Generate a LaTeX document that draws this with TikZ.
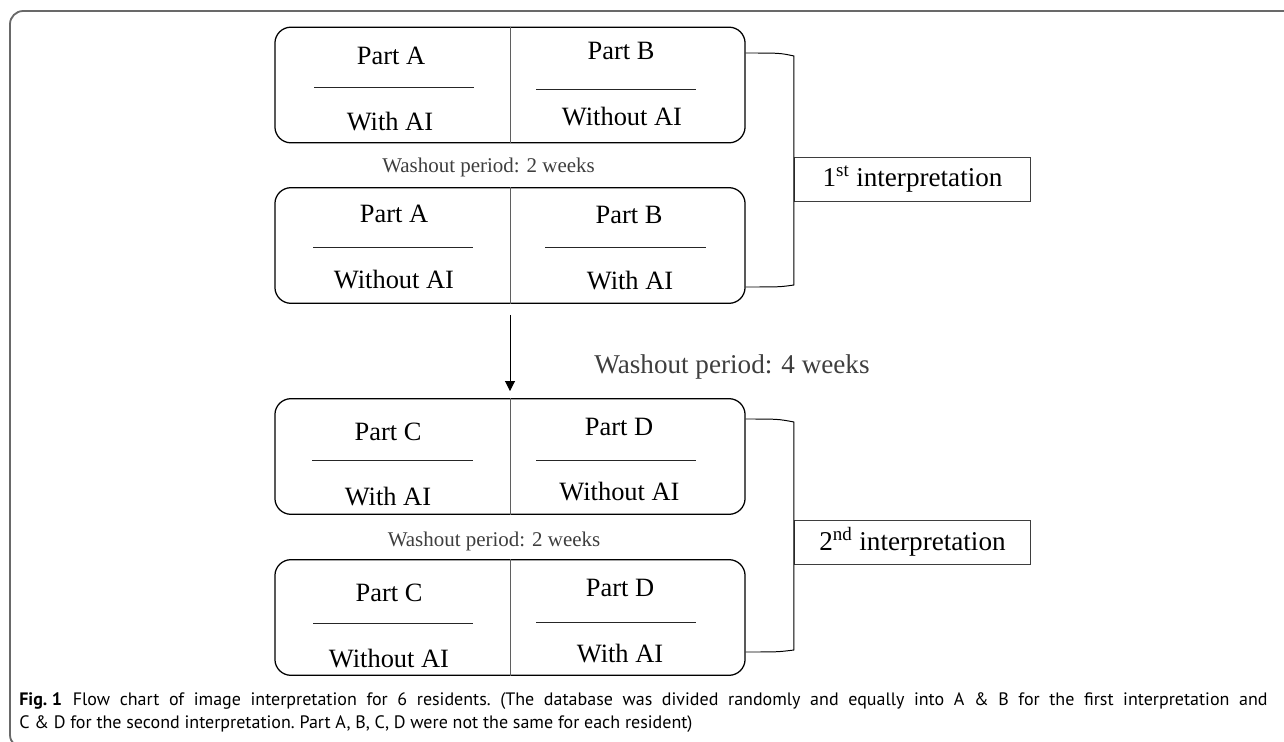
\documentclass[tikz,border=0pt]{standalone}
\usepackage{fontspec}
\setmainfont{Liberation Serif}
\newfontfamily\capfont{PT Sans}
\usetikzlibrary{arrows.meta,calc}
\definecolor{washgray}{RGB}{62,62,62}
\definecolor{framegray}{RGB}{105,105,105}
\definecolor{divgray}{RGB}{95,95,95}
\tikzstyle{partbox} = [draw=black, line width=0.9pt, rounded corners=0.4cm, minimum width=11.75cm, minimum height=2.89cm, inner sep=0pt]
\tikzstyle{parttxt} = [anchor=base, inner sep=0pt, font=\fontsize{18.8}{20}\selectfont]
\tikzstyle{washsmall} = [anchor=base, inner sep=0pt, text=washgray, font=\fontsize{14.9}{16}\selectfont]
\tikzstyle{washbig} = [anchor=base, inner sep=0pt, text=washgray, font=\fontsize{19.3}{21}\selectfont]
\tikzstyle{interp} = [draw=washgray, line width=0.7pt, minimum width=5.9cm, minimum height=1.1cm, inner sep=0pt, font=\fontsize{19.3}{21}\selectfont]
\tikzstyle{divline} = [draw=divgray, line width=0.7pt]
\tikzstyle{uline} = [draw=black!85, line width=0.6pt]
\tikzstyle{bracket} = [draw=black, line width=0.7pt]
\tikzstyle{arrow} = [draw=black, line width=0.7pt, -{Triangle[width=7pt,length=7pt]}]
\tikzstyle{capt} = [anchor=base west, inner sep=0pt, font=\capfont\frenchspacing\fontsize{12.8}{14}\selectfont]

\begin{document}
\begin{tikzpicture}[x=0.025cm, y=-0.025cm]
\useasboundingbox (0,0) rectangle (1284,742);
\draw[framegray, line width=1.3pt, rounded corners=0.33cm] (1300,11) -- (10,11) -- (10,748) -- (40,748);

\node[partbox] (r1) at (510,85) {};
\node[partbox] (r2) at (510,245.5) {};
\node[partbox] (r3) at (510,456.5) {};
\node[partbox] (r4) at (510,617.5) {};
\draw[divline] (r1.north) -- (r1.south);
\draw[divline] (r2.north) -- (r2.south);
\draw[divline] (r3.north) -- (r3.south);
\draw[divline] (r4.north) -- (r4.south);

\node[parttxt] (r1a) at (391,65) {Part A};
\node[parttxt] (r1aw) at (390,131) {With AI};
\node[parttxt] (r1b) at (621,60) {Part B};
\node[parttxt] (r1bw) at (622,126) {Without AI};
\draw[uline] (314,87) -- (474,87);
\draw[uline] (536,89) -- (696,89);

\node[parttxt] (r2a) at (394,222) {Part A};
\node[parttxt] (r2aw) at (394,288) {Without AI};
\node[parttxt] (r2b) at (629,223) {Part B};
\node[parttxt] (r2bw) at (630,289) {With AI};
\draw[uline] (313,247) -- (473,247);
\draw[uline] (545,247) -- (706,247);

\node[parttxt] (r3a) at (388,440) {Part C};
\node[parttxt] (r3aw) at (388,505.5) {With AI};
\node[parttxt] (r3b) at (619,435) {Part D};
\node[parttxt] (r3bw) at (619.5,500.5) {Without AI};
\draw[uline] (312,460) -- (473,460);
\draw[uline] (536,460) -- (696,460);

\node[parttxt] (r4a) at (389,601.5) {Part C};
\node[parttxt] (r4aw) at (389,667) {Without AI};
\node[parttxt] (r4b) at (620,596.5) {Part D};
\node[parttxt] (r4bw) at (620,662) {With AI};
\draw[uline] (313,623.3) -- (473,623.3);
\draw[uline] (536,622.7) -- (696,622.7);

\node[washsmall] (w1) at (488.5,173) {Washout period: 2 weeks};
\node[washsmall] (w3) at (494,546) {Washout period: 2 weeks};
\node[washbig] (w2) at (732,373) {Washout period: 4 weeks};

\draw[arrow, shorten <=7.8pt, shorten >=5pt] (r2.south) -- (r3.north);

\node[interp] (i1) at (912.5,179) {1\textsuperscript{st} interpretation};
\node[interp] (i2) at (912.5,542) {2\textsuperscript{nd} interpretation};
\draw[bracket] (r1.east |- 0,53) .. controls (780,53) .. (i1.west |- 0,56) -- (i1.west) -- (i1.west |- 0,285) .. controls (780,287) .. (r2.east |- 0,287);
\draw[bracket] (r3.east |- 0,419) .. controls (778,419) .. (i2.west |- 0,422) -- (i2.west) -- (i2.west |- 0,650) .. controls (778,652) .. (r4.east |- 0,652);

\node[capt] (cap1) at (19,705) {\makebox[31.2cm][s]{\mbox{\textbf{Fig. 1}}\hspace{0.6em}Flow chart of image interpretation for 6 residents. (The database was divided randomly and equally into A \& B for the first interpretation and}};
\node[capt] (cap2) at (19,728) {C \& D for the second interpretation. Part A, B, C, D were not the same for each resident)};
\end{tikzpicture}
\end{document}
